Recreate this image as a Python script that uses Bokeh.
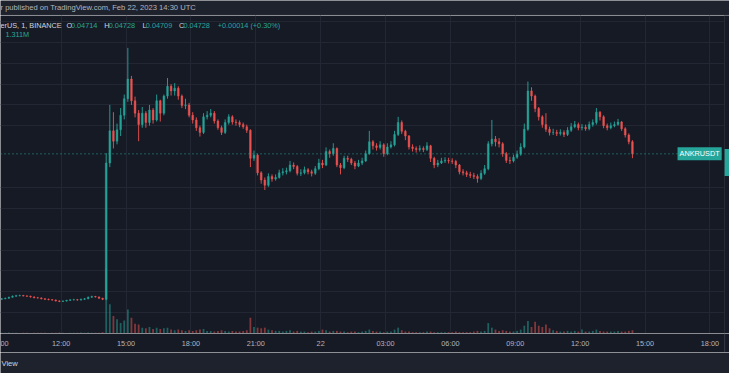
import pandas as pd
from bokeh.plotting import figure
from bokeh.models import ColumnDataSource, Range1d, FixedTicker, Span, Label, BoxAnnotation
from bokeh.layouts import column
from bokeh.embed import file_html
from bokeh.resources import INLINE
from bokeh.core.properties import value

# ---------------- data (10-minute candles, prices in 1e-5 USDT) ----------------
first_candle = "2023-02-21 09:10"
first_open_pts = 3325
close_pts = [
    3330, 3335, 3345, 3355, 3360, 3362, 3358, 3355, 3348, 3340, 3338, 3330, 3325, 3322, 3318,
    3310, 3305, 3308, 3315, 3320, 3322, 3318, 3325, 3330, 3345, 3352, 3348, 3335, 3325,
    4640, 4950, 4850, 4960, 5100, 5260, 5450, 5240, 5120, 5010, 5120,
    5030, 5150, 5055, 5240, 5120, 5285, 5380, 5335, 5360, 5285,
    5195, 5200, 5100, 5055, 4980, 4935, 5085, 5100, 5120, 5045,
    4980, 4935, 5030, 5085, 5035, 5030, 5010, 4990, 4955, 4685,
    4715, 4545, 4475, 4425, 4510, 4485, 4500, 4545, 4555, 4565,
    4620, 4605, 4540, 4545, 4575, 4555, 4540, 4585, 4640, 4620,
    4750, 4730, 4780, 4620, 4595, 4685, 4675, 4640, 4610, 4640,
    4660, 4730, 4845, 4805, 4790, 4815, 4730, 4795, 4815, 4915,
    5030, 4945, 4900, 4795, 4780, 4770, 4780, 4770, 4805, 4685,
    4620, 4640, 4660, 4665, 4660, 4655, 4620, 4555, 4545, 4530,
    4520, 4510, 4490, 4540, 4585, 4825, 4870, 4845, 4825, 4730,
    4665, 4660, 4695, 4725, 4795, 4965, 5335, 5285, 5165, 5085,
    5010, 4965, 4935, 4935, 4925, 4935, 4915, 4955, 4990, 5010,
    4980, 4985, 4970, 5010, 5030, 5130, 5085, 5000, 4980, 5000,
    5010, 5035, 4970, 4910, 4845, 4728,
]
high_pts = [
    3338, 3342, 3350, 3362, 3368, 3370, 3368, 3364, 3360, 3354, 3348, 3344, 3336, 3332, 3328,
    3324, 3316, 3314, 3320, 3326, 3330, 3328, 3332, 3338, 3352, 3360, 3358, 3352, 3340,
    4735, 5200, 5130, 5020, 5170, 5300, 5750, 5480, 5280, 5150, 5180,
    5140, 5200, 5170, 5300, 5250, 5300, 5460, 5400, 5410, 5380,
    5300, 5260, 5220, 5130, 5080, 5000, 5120, 5140, 5160, 5140,
    5060, 5000, 5060, 5110, 5100, 5060, 5050, 5030, 5010, 4965,
    4760, 4730, 4560, 4500, 4540, 4530, 4530, 4575, 4590, 4595,
    4660, 4645, 4620, 4580, 4605, 4590, 4575, 4610, 4680, 4670,
    4790, 4770, 4830, 4790, 4640, 4710, 4710, 4690, 4660, 4670,
    4690, 4760, 4950, 4860, 4830, 4850, 4830, 4830, 4850, 4950,
    5085, 5050, 4960, 4910, 4820, 4800, 4810, 4800, 4840, 4815,
    4700, 4670, 4690, 4695, 4690, 4685, 4670, 4630, 4580, 4565,
    4555, 4545, 4530, 4570, 4620, 4850, 5055, 4900, 4880, 4840,
    4745, 4700, 4720, 4760, 4830, 5020, 5425, 5370, 5300, 5180,
    5100, 5120, 4990, 4970, 4960, 4965, 4955, 4985, 5025, 5045,
    5030, 5015, 5010, 5040, 5060, 5170, 5140, 5100, 5020, 5030,
    5040, 5065, 5045, 4985, 4925, 4860,
]
low_pts = [
    3320, 3326, 3332, 3342, 3350, 3354, 3352, 3348, 3342, 3335, 3332, 3325, 3318, 3316, 3312,
    3304, 3298, 3300, 3304, 3310, 3314, 3312, 3314, 3320, 3326, 3340, 3342, 3330, 3318,
    3318, 4600, 4780, 4820, 4900, 5060, 5230, 5200, 5080, 4850, 4980,
    4980, 5000, 5020, 5040, 5040, 5100, 5260, 5290, 5290, 5250,
    5170, 5160, 5080, 5020, 4950, 4895, 4920, 5060, 5080, 5020,
    4960, 4910, 4920, 5010, 5010, 5000, 4985, 4970, 4930, 4600,
    4660, 4520, 4440, 4380, 4410, 4460, 4470, 4490, 4520, 4530,
    4550, 4580, 4520, 4515, 4530, 4530, 4510, 4525, 4570, 4590,
    4610, 4690, 4710, 4600, 4530, 4580, 4650, 4620, 4580, 4600,
    4620, 4650, 4720, 4770, 4760, 4770, 4700, 4715, 4780, 4800,
    4900, 4920, 4860, 4770, 4750, 4740, 4750, 4745, 4755, 4650,
    4590, 4600, 4630, 4640, 4635, 4630, 4590, 4530, 4520, 4505,
    4495, 4485, 4450, 4475, 4525, 4570, 4800, 4800, 4790, 4700,
    4640, 4630, 4645, 4680, 4710, 4780, 4950, 5240, 5130, 5050,
    4980, 4940, 4905, 4910, 4900, 4905, 4890, 4900, 4940, 4975,
    4955, 4955, 4950, 4955, 4990, 5010, 5050, 4975, 4955, 4965,
    4985, 5000, 4950, 4885, 4820, 4686,
]
volume_m = [
    1.2, 1.0, 1.5, 1.2, 1.0, 0.8, 1.0, 1.2, 0.9, 1.1, 1.0, 1.3, 1.0, 0.8, 1.0,
    1.2, 1.5, 1.0, 0.9, 1.1, 1.0, 1.2, 1.4, 1.0, 1.6, 1.2, 1.0, 1.3, 2.0,
    100, 45, 27, 22, 16, 20, 37, 24, 15, 14, 9,
    8, 10, 7, 9, 7, 8, 9, 6, 5, 6,
    5, 4, 5, 4, 5, 6, 7, 4, 4, 3,
    4, 5, 4, 3, 4, 3, 3, 4, 5, 24,
    10, 9, 8, 9, 6, 5, 4, 4, 3, 4,
    5, 3, 4, 3, 3, 2, 3, 3, 4, 6,
    5, 3, 4, 4, 3, 3, 2, 3, 3, 2,
    3, 4, 6, 4, 3, 3, 2, 3, 3, 6,
    9, 5, 3, 3, 2, 2, 2, 2, 3, 3,
    2, 2, 2, 2, 2, 2, 3, 2, 2, 2,
    2, 3, 4, 3, 4, 16, 9, 6, 4, 5,
    4, 3, 3, 4, 6, 12, 19, 10, 18, 12,
    10, 14, 8, 5, 4, 3, 3, 4, 3, 4,
    3, 6, 3, 3, 4, 6, 4, 3, 3, 3,
    3, 4, 3, 3, 4, 5,
]
tick_times = ["2023-02-21 12:00", "2023-02-21 15:00", "2023-02-21 18:00", "2023-02-21 21:00",
              "2023-02-22 00:00", "2023-02-22 03:00", "2023-02-22 06:00", "2023-02-22 09:00",
              "2023-02-22 12:00", "2023-02-22 15:00", "2023-02-22 18:00"]
tick_labels = ["12:00", "15:00", "18:00", "21:00", "22", "03:00", "06:00", "09:00",
               "12:00", "15:00", "18:00"]
grid_prices = [0.032, 0.034, 0.036, 0.038, 0.040, 0.042, 0.044,
               0.050, 0.052, 0.054, 0.056, 0.058, 0.060]
last_price = 0.04728
legend_values = ["0.04714", "0.04728", "0.04709", "0.04728"]
legend_change = "+0.00014 (+0.30%)"
legend_volume = "1.311M"

# ---------------- styles ----------------
FONT = "Liberation Sans"
FS = "7.3px"
PANE = "#161a25"
BAND = "#1e222d"
GRID = "#232734"
SCALE_LINE = "#363a45"
UP = "#26a69a"
DOWN = "#ef5350"
TXT = "#b2b5be"
TXT2 = "#d1d4dc"

W = 729
FRAME_H = 318
AXIS_H = 19
SX = W / 745.0


def fx(xr):
    return xr * SX


def fy(yr):
    return FRAME_H - (yr - 16) * FRAME_H / 332.0


SCALE = 1e5
n = len(close_pts)
starts = pd.date_range(first_candle, periods=n, freq="10min")
xs = starts + pd.Timedelta(minutes=5)
close = [c / SCALE for c in close_pts]
opens = [first_open_pts / SCALE] + close[:-1]
high = [h / SCALE for h in high_pts]
low = [l / SCALE for l in low_pts]
colors = [UP if c >= o else DOWN for o, c in zip(opens, close)]

src = ColumnDataSource(dict(
    x=xs, open=opens, close=close, high=high, low=low,
    top=[max(o, c) for o, c in zip(opens, close)],
    bottom=[min(o, c) for o, c in zip(opens, close)],
    color=colors, vol=volume_m,
))

view_start = pd.Timestamp("2023-02-21 09:11:42")
scale_edge = pd.Timestamp("2023-02-22 18:40:44")
view_end = pd.Timestamp("2023-02-22 18:54:18")
xr = Range1d(view_start, view_end)
price_bottom = 0.029954
price_top = 0.060624
PX_PRICE = 0.002 / 21.65   # price per reference pixel

common = dict(output_backend="svg", toolbar_location=None, min_border=0,
              outline_line_color=None, x_axis_location=None, y_axis_location=None)

# ---------------- main pane ----------------
p = figure(width=W, height=FRAME_H, x_axis_type="datetime", x_range=xr,
           y_range=Range1d(price_bottom, price_top),
           background_fill_color=PANE, border_fill_color=PANE, **common)

tick_ms = [int(pd.Timestamp(t).value // 10**6) for t in tick_times]
p.xgrid.ticker = FixedTicker(ticks=tick_ms)
p.xgrid.grid_line_color = GRID
p.ygrid.ticker = FixedTicker(ticks=grid_prices)
p.ygrid.grid_line_color = GRID

# volume
p.extra_y_ranges = {"vol": Range1d(0, 488)}
p.vbar(x="x", width=300000, top="vol", bottom=0, source=src, y_range_name="vol",
       fill_color="color", line_color=None, fill_alpha=0.5)

# candles
p.segment(x0="x", y0="high", x1="x", y1="low", source=src, line_color="color",
          line_width=1, line_alpha=0.9)
p.vbar(x="x", width=300000, top="top", bottom="bottom", source=src,
       fill_color="color", line_color="color", line_width=0.4, fill_alpha=0.9)

p.add_layout(Span(location=last_price, dimension="width", line_color=UP,
                  line_dash="1 3", line_width=1))
# price-scale strip on the right edge
p.add_layout(BoxAnnotation(left=scale_edge, right=view_end, fill_color=PANE, fill_alpha=1,
                           line_color=None, level="overlay"))
p.add_layout(BoxAnnotation(left=scale_edge, right=view_end,
                           top=last_price + 5 * PX_PRICE, bottom=last_price - 23 * PX_PRICE,
                           fill_color=UP, fill_alpha=1, line_color=None, level="overlay"))
p.add_layout(Span(location=scale_edge, dimension="height", line_color=SCALE_LINE, line_width=1))


def lab(text, x_ref, y_ref, color, align="left", size=FS):
    p.add_layout(Label(x=fx(x_ref), y=fy(y_ref), x_units="screen", y_units="screen",
                       text=text, text_align=align, text_baseline="middle", text_font=FONT,
                       text_font_size=size, text_color=color))


lab("erUS, 1, BINANCE", 0, 26, TXT2)
for letter, val, xl, xv in zip(["O", "H", "L", "C"], legend_values,
                               [67.5, 106, 145, 182.5], [72, 110.5, 148.5, 187]):
    lab(letter, xl, 26, TXT2)
    lab(val, xv, 26, UP)
lab(legend_change, 222, 26, UP)
lab(legend_volume, 5, 36, UP)

p.add_layout(Label(x=fx(737), y=last_price, x_units="screen", y_units="data", text="ANKRUSDT",
                   text_align="right", text_baseline="middle", text_font=FONT,
                   text_font_size=FS, text_color="white", background_fill_color=UP,
                   padding=2))

# ---------------- time axis strip ----------------
ax = figure(width=W, height=AXIS_H, x_axis_type="datetime", x_range=xr,
            y_range=Range1d(0, AXIS_H), background_fill_color=PANE,
            border_fill_color=PANE, **common)
ax.grid.visible = False
ax.text(x=pd.to_datetime(tick_times), y=[AXIS_H - 9.6] * len(tick_times), text=tick_labels,
        text_font=value(FONT), text_font_size=value(FS), text_color=TXT,
        text_align="center", text_baseline="middle")
ax.add_layout(Label(x=0, y=AXIS_H - 9.6, x_units="screen", y_units="data", text="00",
                    text_align="left", text_baseline="middle", text_font=FONT,
                    text_font_size=FS, text_color=TXT))
ax.add_layout(Span(location=scale_edge, dimension="height", line_color=SCALE_LINE,
                   line_width=1))

# ---------------- header band ----------------
head = figure(width=W, height=15, x_range=Range1d(0, 745), y_range=Range1d(0, 16),
              background_fill_color=BAND, border_fill_color=BAND, **common)
head.grid.visible = False
head.segment(x0=[0], y0=[0.4], x1=[745], y1=[0.4], line_color="#2a2e39", line_width=1)
head.text(x=[0], y=[8.5], text=["r published on TradingView.com, Feb 22, 2023 14:30 UTC"],
          text_font=value(FONT), text_font_size=value("7.6px"), text_color=TXT,
          text_baseline="middle")

# ---------------- footer band ----------------
foot = figure(width=W, height=21, x_range=Range1d(0, 745), y_range=Range1d(0, 22),
              background_fill_color=BAND, border_fill_color=BAND, **common)
foot.grid.visible = False
foot.text(x=[1], y=[11], text=["View"], text_font=value(FONT), text_font_size=value("7.6px"),
          text_color=TXT2, text_baseline="middle")

layout = column(head, p, ax, foot, spacing=0)
open("out.html", "w").write(file_html(layout, INLINE))
